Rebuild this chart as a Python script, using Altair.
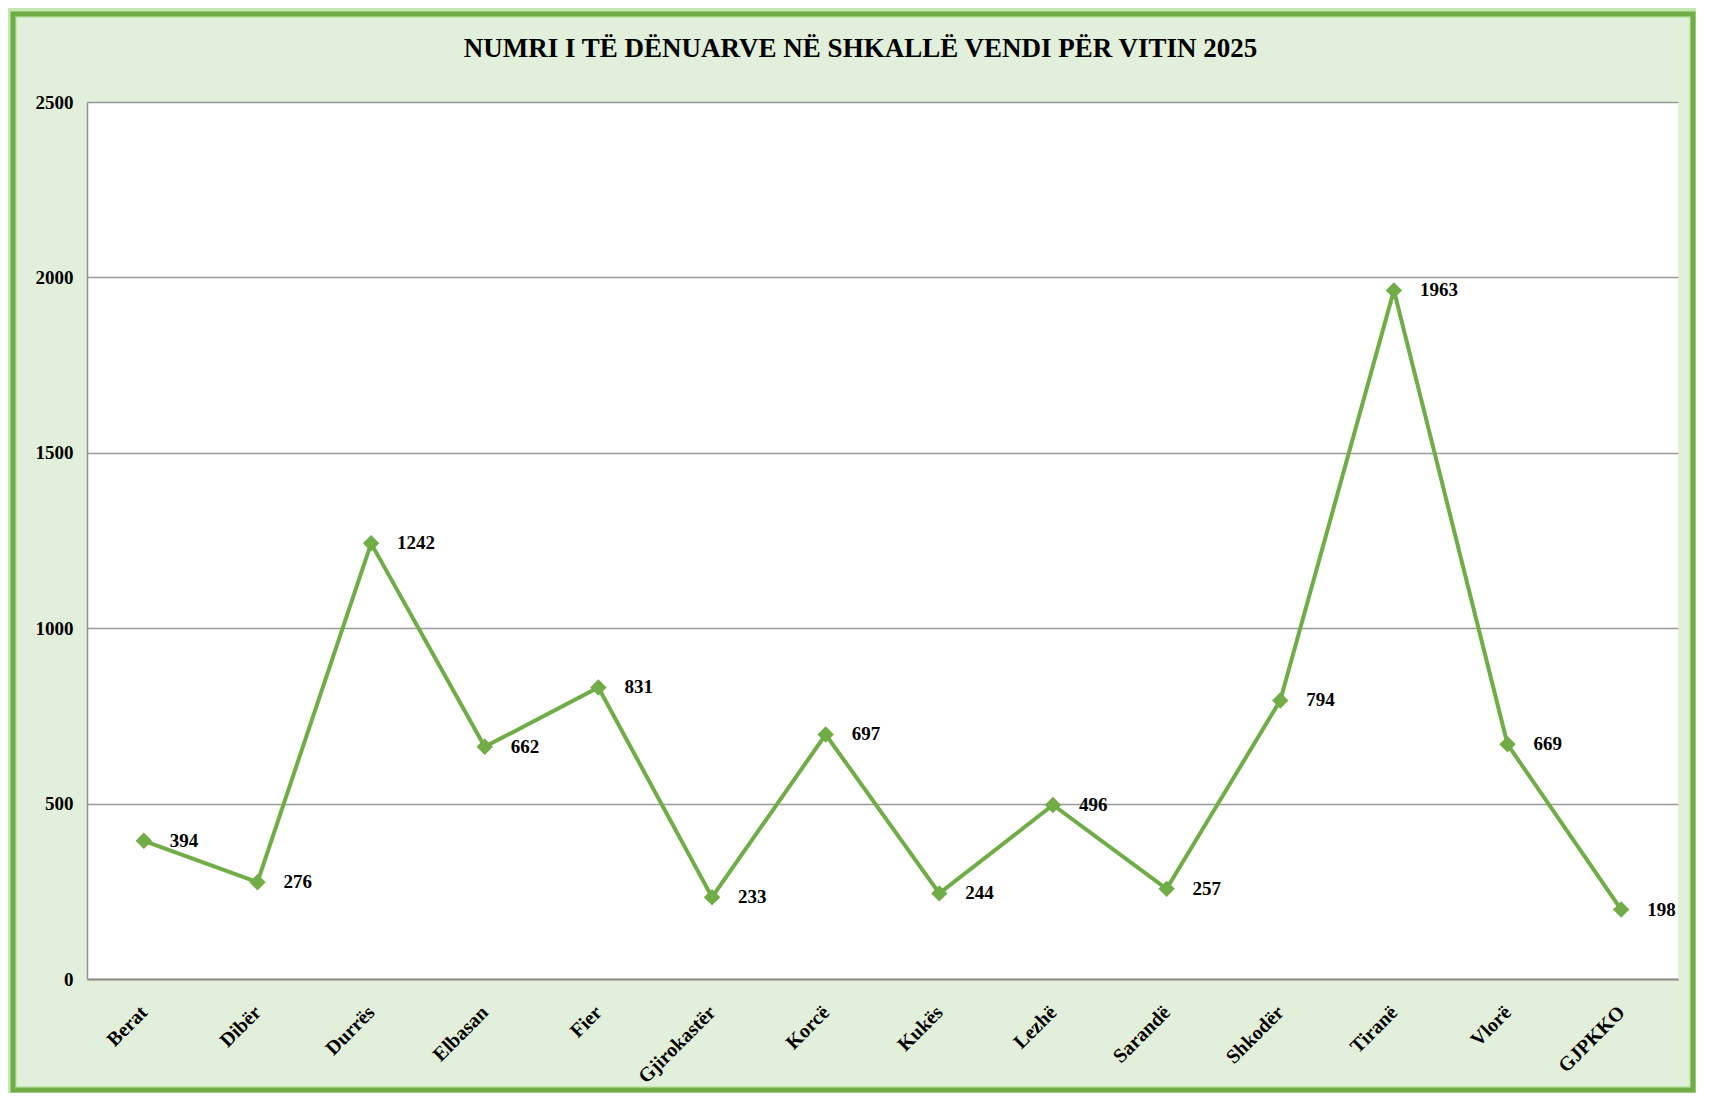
import altair as alt
import pandas as pd

categories = ["Berat", "Dibër", "Durrës", "Elbasan", "Fier", "Gjirokastër", "Korcë",
              "Kukës", "Lezhë", "Sarandë", "Shkodër", "Tiranë", "Vlorë", "GJPKKO"]
values = [394, 276, 1242, 662, 831, 233, 697, 244, 496, 257, 794, 1963, 669, 198]
y_ticks = [0, 500, 1000, 1500, 2000, 2500]
title_text = "NUMRI I TË DËNUARVE NË SHKALLË VENDI PËR VITIN 2025"

df = pd.DataFrame({"cat": categories, "val": values})

GREEN = "#70AD47"
FONT = "Liberation Serif"
W, H = 1591, 877

x_enc = alt.X("cat:N", sort=categories,
              scale=alt.Scale(type="point", padding=0.5),
              axis=alt.Axis(title=None, labelAngle=-45, labelAlign="right",
                            labelBaseline="middle", labelPadding=30,
                            labelFont=FONT, labelFontWeight="bold", labelFontSize=20,
                            labelColor="#000000", ticks=False, grid=False,
                            domainColor="#8f8f8f", domainWidth=2))
y_enc = alt.Y("val:Q", scale=alt.Scale(domain=[0, 2500], nice=False),
              axis=alt.Axis(title=None, values=y_ticks, format="d", labelPadding=14,
                            labelFont=FONT, labelFontWeight="bold", labelFontSize=19,
                            labelColor="#000000", ticks=False, grid=True,
                            gridColor="#9a9a9a", gridWidth=1.5,
                            domainColor="#8f8f8f", domainWidth=1.5))

base = alt.Chart(df)

line = base.mark_line(color=GREEN, strokeWidth=4).encode(x=x_enc, y=y_enc)
pts = base.mark_point(shape="diamond", filled=True, size=270, color=GREEN, opacity=1).encode(x=x_enc, y=y_enc)
labels = base.mark_text(align="left", baseline="middle", dx=26, font=FONT,
                        fontWeight="bold", fontSize=19, color="#000000").encode(
    x=x_enc, y=y_enc, text="val:Q")

frame_df = pd.DataFrame({"t": [title_text]})
glow = alt.Chart(frame_df).mark_rect(fill=None, stroke="#C5E8B0", strokeWidth=10).encode(
    x=alt.value(-75), x2=alt.value(1607), y=alt.value(-89), y2=alt.value(989))
frame = alt.Chart(frame_df).mark_rect(fill=None, stroke=GREEN, strokeWidth=5).encode(
    x=alt.value(-74), x2=alt.value(1606), y=alt.value(-88), y2=alt.value(988))
title = alt.Chart(frame_df).mark_text(font=FONT, fontSize=27, fontWeight="bold",
                                      color="#000000", align="center", baseline="middle").encode(
    x=alt.value(W / 2 - 22), y=alt.value(-53), text="t:N")

chart = alt.layer(glow, frame, title, line, pts, labels).properties(
    width=W, height=H,
    background="#E2EFDA",
    padding={"left": 79, "top": 94, "right": 18, "bottom": 114},
    autosize=alt.AutoSizeParams(type="none"),
).configure_view(fill="#FFFFFF", stroke=None)

chart.save("out.html", embed_options={"renderer": "svg", "actions": False})
